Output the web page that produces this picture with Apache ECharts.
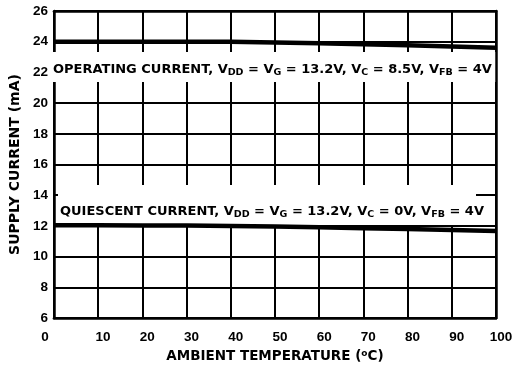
<!DOCTYPE html>
<html>
<head>
<meta charset="utf-8">
<script src="https://cdn.jsdelivr.net/npm/echarts@6/dist/echarts.min.js"></script>
<style>html,body{margin:0;padding:0;background:#fff}#c{width:518px;height:369px}</style>
</head>
<body>
<div id="c"></div>
<script>
var temps = [0, 10, 20, 30, 40, 50, 60, 70, 80, 90, 100];
var operating = [24.0, 24.0, 24.0, 24.0, 24.0, 23.95, 23.9, 23.84, 23.77, 23.69, 23.6];
var quiescent = [12.05, 12.04, 12.03, 12.02, 12.0, 11.96, 11.91, 11.85, 11.79, 11.73, 11.66];
var xTicks = [0, 10, 20, 30, 40, 50, 60, 70, 80, 90, 100];
var yTicks = [6, 8, 10, 12, 14, 16, 18, 20, 22, 24, 26];

var FONT = '"Liberation Sans", Arial, sans-serif';
var WIDE = '"DejaVu Sans", sans-serif';
var chart = echarts.init(document.getElementById('c'), null, {renderer: 'canvas'});

function pairs(xs, ys) { return xs.map(function (x, i) { return [x, ys[i]]; }); }

var txtRich = {
  m: {fontSize: 13, fontWeight: 'bold', fontFamily: WIDE, color: '#000', lineHeight: 16},
  s: {fontSize: 9.5, fontWeight: 'bold', fontFamily: WIDE, color: '#000', lineHeight: 16, padding: [6, 0, 0, 0]}
};

var option = {
  backgroundColor: '#fff',
  animation: false,
  grid: {left: 49, right: 22, top: 11, bottom: 51},
  xAxis: [{
    type: 'value', min: 0, max: 100, interval: 10,
    axisLine: {show: true, onZero: false, lineStyle: {color: '#000', width: 2.5}},
    axisTick: {show: false},
    splitLine: {show: true, lineStyle: {color: '#000', width: 2}},
    axisLabel: {
      margin: 12,
      formatter: function (v) { return v === 0 ? '{z|0}' : '{n|' + v + '}'; },
      rich: {
        z: {fontSize: 13.5, fontWeight: 'bold', fontFamily: FONT, color: '#000', padding: [0, 18, 0, 0]},
        n: {fontSize: 13.5, fontWeight: 'bold', fontFamily: FONT, color: '#000', padding: [0, 0, 0, 10]}
      }
    },
    name: '{t|AMBIENT TEMPERATURE (}{u|o}{t|C)}',
    nameLocation: 'middle', nameGap: 30,
    nameTextStyle: {
      rich: {
        t: {fontSize: 13.5, fontWeight: 'bold', fontFamily: WIDE, color: '#000'},
        u: {fontSize: 9, fontWeight: 'bold', fontFamily: WIDE, color: '#000', padding: [0, 0, 6, 0]}
      }
    }
  }, {
    type: 'value', min: 0, max: 100, position: 'top', z: 10,
    axisLine: {show: true, onZero: false, lineStyle: {color: '#000', width: 2.5}},
    axisTick: {show: false}, axisLabel: {show: false}, splitLine: {show: false}
  }],
  yAxis: [{
    type: 'value', min: 6, max: 26, interval: 2,
    axisLine: {show: true, onZero: false, lineStyle: {color: '#000', width: 2.5}},
    axisTick: {show: false},
    splitLine: {show: true, lineStyle: {color: '#000', width: 2}},
    axisLabel: {margin: 6, fontSize: 13.5, fontWeight: 'bold', fontFamily: FONT, color: '#000'},
    name: 'SUPPLY CURRENT (mA)',
    nameLocation: 'middle', nameGap: 29,
    nameTextStyle: {fontSize: 14, fontWeight: 'bold', fontFamily: WIDE, color: '#000'}
  }, {
    type: 'value', min: 6, max: 26, position: 'right', z: 10,
    axisLine: {show: true, onZero: false, lineStyle: {color: '#000', width: 2.5}},
    axisTick: {show: false}, axisLabel: {show: false}, splitLine: {show: false}
  }],
  graphic: [
    {type: 'rect', z: 5, shape: {x: 51, y: 52, width: 445, height: 30}, style: {fill: '#fff'}},
    {type: 'rect', z: 5, shape: {x: 58, y: 185, width: 418, height: 40}, style: {fill: '#fff'}},
    {type: 'text', z: 6, x: 53, y: 70, style: {
      text: '{m|OPERATING CURRENT, V}{s|DD}{m| = V}{s|G}{m| = 13.2V, V}{s|C}{m| = 8.5V, V}{s|FB}{m| = 4V}',
      rich: txtRich, verticalAlign: 'middle', align: 'left'}},
    {type: 'text', z: 6, x: 60, y: 212, style: {
      text: '{m|QUIESCENT CURRENT, V}{s|DD}{m| = V}{s|G}{m| = 13.2V, V}{s|C}{m| = 0V, V}{s|FB}{m| = 4V}',
      rich: txtRich, verticalAlign: 'middle', align: 'left'}}
  ],
  series: [
    {type: 'line', z: 20, data: pairs(temps, operating), symbol: 'none', lineStyle: {color: '#000', width: 4.5}},
    {type: 'line', z: 20, data: pairs(temps, quiescent), symbol: 'none', lineStyle: {color: '#000', width: 4.5}}
  ]
};
chart.setOption(option);
</script>
</body>
</html>
